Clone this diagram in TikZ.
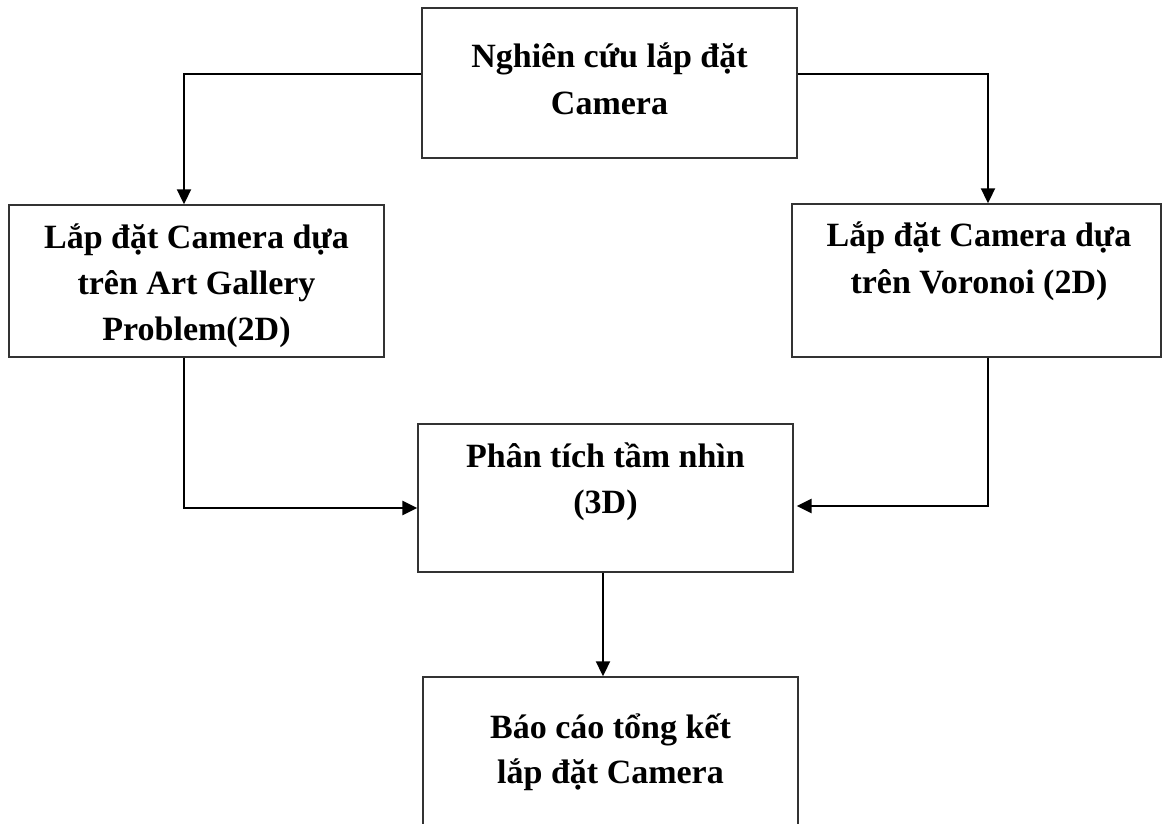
\documentclass[tikz,border=0pt]{standalone}
\usepackage{fontspec}
\setmainfont{Liberation Serif}
\usetikzlibrary{arrows.meta}
\begin{document}
\begin{tikzpicture}[x=1pt,y=-1pt,
  stepbox/.style={draw=black!80,line width=1.4pt,rectangle,inner sep=0pt},
  txt/.style={anchor=base,inner sep=0pt,font=\fontsize{34}{46}\selectfont\bfseries},
  flow/.style={draw=black,line width=2pt,-{Triangle[length=15pt,width=14pt]}},
  flowthick/.style={flow,line width=2.6pt}]
\useasboundingbox (0,0) rectangle (1163,824);
\clip (0,0) rectangle (1163,824);

% boxes
\node[stepbox,minimum width=375pt,minimum height=150pt] (top)   at (609.5,83) {};
\node[stepbox,minimum width=375pt,minimum height=152pt] (left)  at (196.5,281) {};
\node[stepbox,minimum width=369pt,minimum height=153pt] (right) at (976.5,280.5) {};
\node[stepbox,minimum width=375pt,minimum height=148pt] (mid)   at (605.5,498) {};
\node[stepbox,minimum width=375pt,minimum height=160pt] (bot)   at (610.5,757) {};

% labels
\node[txt] (topA) at (609.5,68)  {Nghiên cứu lắp đặt};
\node[txt] (topB) at (609.5,115) {Camera};
\node[txt] (leftA) at (196.5,248) {Lắp đặt Camera dựa};
\node[txt] (leftB) at (196.5,294) {trên Art Gallery};
\node[txt] (leftC) at (196.5,340) {Problem(2D)};
\node[txt] (rightA) at (979,247) {Lắp đặt Camera dựa};
\node[txt] (rightB) at (979,293) {trên Voronoi (2D)};
\node[txt] (midA) at (605.5,467) {Phân tích tầm nhìn};
\node[txt] (midB) at (605.5,513) {(3D)};
\node[txt] (botA) at (610.5,738) {Báo cáo tổng kết};
\node[txt] (botB) at (610.5,783) {lắp đặt Camera};

% connectors
\draw[flow] ([yshift=9pt]top.west) -| ([xshift=-12.5pt]left.north);
\draw[flow] ([yshift=9pt]top.east) -| ([xshift=11.5pt]right.north);
\draw[flowthick] ([xshift=-12.5pt]left.south) |- ([yshift=-10pt]mid.west);
\draw[flowthick,shorten >=3pt] ([xshift=11.5pt]right.south) |- ([yshift=-8pt]mid.east);
\draw[flow] ([xshift=-2.5pt]mid.south) -- ([xshift=-2.5pt]mid.south |- bot.north);
\end{tikzpicture}
\end{document}
